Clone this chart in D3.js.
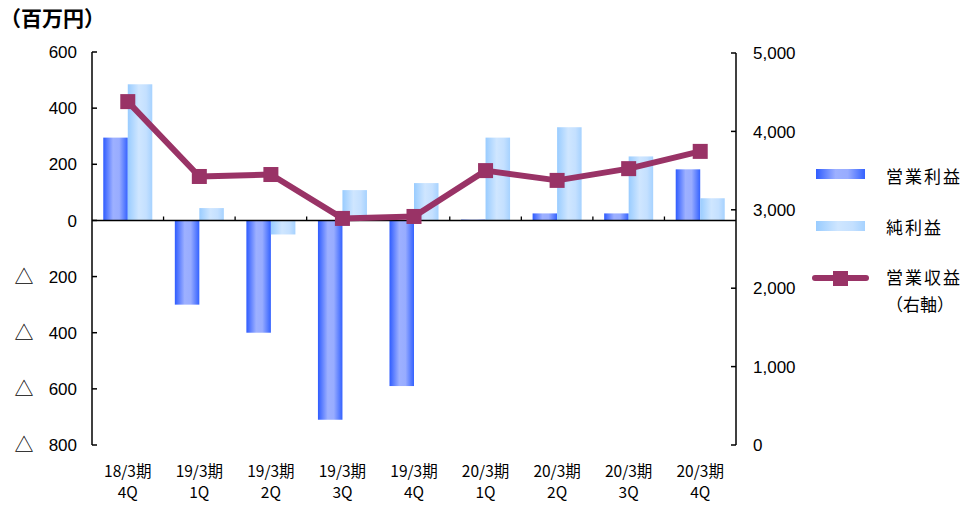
<!DOCTYPE html>
<html><head><meta charset="utf-8">
<script src="https://cdn.jsdelivr.net/npm/d3@7"></script>
<style>
html,body{margin:0;padding:0;background:#fff;}
svg{display:block;}
</style></head>
<body><svg id="c" width="962" height="506"></svg>
<script>
const categories = ["18/3期|4Q","19/3期|1Q","19/3期|2Q","19/3期|3Q","19/3期|4Q","20/3期|1Q","20/3期|2Q","20/3期|3Q","20/3期|4Q"];
const operatingProfit = [295, -300, -400, -710, -590, 3, 25, 25, 182];
const netProfit = [485, 44, -50, 108, 133, 295, 332, 228, 79];
const operatingRevenue = [4380, 3425, 3450, 2890, 2915, 3500, 3375, 3525, 3745];
const leftTicks = [600, 400, 200, 0, -200, -400, -600, -800];
const rightTicks = [5000, 4000, 3000, 2000, 1000, 0];
const seriesNames = ["営業利益", "純利益", "営業収益", "（右軸）"];

const svg = d3.select("#c");
const NUM = "'Liberation Sans', Arial, sans-serif";
const JP = "'Noto Sans CJK JP', sans-serif";
const X0 = 92, X1 = 736, YT = 52, YB = 445;

const defs = svg.append("defs");
function grad(id, stops){
  const g = defs.append("linearGradient").attr("id", id).attr("x1","0%").attr("x2","100%").attr("y1","0%").attr("y2","0%");
  stops.forEach(s => g.append("stop").attr("offset", s[0]).attr("stop-color", s[1]));
}
grad("gDark", [["0%","#2f5cff"],["40%","#9db0ff"],["65%","#98acff"],["100%","#3462ff"]]);
grad("gLight", [["0%","#99ccff"],["45%","#cfe6ff"],["75%","#c4e0ff"],["100%","#a6d2ff"]]);

const x = d3.scaleBand().domain(categories).range([X0, X1]).paddingInner(0).paddingOuter(0);
const xi = d3.scaleBand().domain(["op","net"]).range([0, x.bandwidth()]).paddingInner(0).paddingOuter(0.46);
const yL = d3.scaleLinear().domain([-800, 600]).range([YB, YT]);
const yR = d3.scaleLinear().domain([0, 5000]).range([YB, 53]);

// bars
const g = svg.append("g");
categories.forEach((c, i) => {
  const vals = [["op", operatingProfit[i], "url(#gDark)"], ["net", netProfit[i], "url(#gLight)"]];
  vals.forEach(([k, v, f]) => {
    const y0 = yL(0), y1 = yL(v);
    g.append("rect")
      .attr("x", x(c) + xi(k)).attr("width", xi.bandwidth())
      .attr("y", Math.min(y0, y1)).attr("height", Math.max(Math.abs(y1 - y0), 0.8))
      .attr("fill", f);
  });
});

// x axis at zero
const zeroY = Math.round(yL(0)) + 0.5;
svg.append("line").attr("x1", X0).attr("x2", X1).attr("y1", zeroY).attr("y2", zeroY).attr("stroke", "#000").attr("stroke-width", 1.3);
categories.slice(1).forEach(c => {
  svg.append("line").attr("x1", x(c)).attr("x2", x(c)).attr("y1", zeroY).attr("y2", zeroY - 4).attr("stroke", "#000").attr("stroke-width", 1.3);
});

// left axis
const la = svg.append("g");
la.append("line").attr("x1", X0).attr("x2", X0).attr("y1", yL(600)).attr("y2", yL(-800)).attr("stroke", "#000").attr("stroke-width", 1.5);
leftTicks.forEach(t => {
  la.append("line").attr("x1", X0).attr("x2", X0 + 5).attr("y1", yL(t)).attr("y2", yL(t)).attr("stroke", "#000").attr("stroke-width", 1.5);
  la.append("text").attr("x", 77).attr("y", yL(t)).attr("dy", "0.36em").attr("text-anchor", "end")
    .attr("font-family", NUM).attr("font-size", 17).attr("fill", "#000")
    .text(String(Math.abs(t)));
  if (t < 0) {
    la.append("text").attr("x", 24).attr("y", yL(t)).attr("dy", "0.38em").attr("text-anchor", "middle")
      .attr("font-family", JP).attr("font-size", 19).attr("fill", "#000").text("△");
  }
});

// right axis
const ra = svg.append("g");
ra.append("line").attr("x1", X1).attr("x2", X1).attr("y1", yR(5000)).attr("y2", yR(0)).attr("stroke", "#000").attr("stroke-width", 1.5);
rightTicks.forEach(t => {
  ra.append("line").attr("x1", X1 - 5).attr("x2", X1).attr("y1", yR(t)).attr("y2", yR(t)).attr("stroke", "#000").attr("stroke-width", 1.5);
  ra.append("text").attr("x", 753).attr("y", yR(t)).attr("dy", "0.36em").attr("text-anchor", "start")
    .attr("font-family", NUM).attr("font-size", 17).attr("fill", "#000")
    .text(d3.format(",")(t));
});

// line series
const LC = "#993366";
const line = d3.line().x((d, i) => x(categories[i]) + x.bandwidth() / 2).y(d => yR(d));
svg.append("path").attr("d", line(operatingRevenue)).attr("fill", "none").attr("stroke", LC).attr("stroke-width", 6).attr("stroke-linejoin", "round");
operatingRevenue.forEach((v, i) => {
  const cx = x(categories[i]) + x.bandwidth() / 2;
  svg.append("rect").attr("x", cx - 7.5).attr("y", yR(v) - 7.5).attr("width", 15).attr("height", 15).attr("fill", LC);
});

// category labels
categories.forEach(c => {
  const [a, b] = c.split("|");
  const cx = x(c) + x.bandwidth() / 2;
  svg.append("text").attr("x", cx).attr("y", 477).attr("text-anchor", "middle")
    .attr("font-family", JP).attr("font-size", 15.5).attr("fill", "#000").text(a);
  svg.append("text").attr("x", cx).attr("y", 498).attr("text-anchor", "middle")
    .attr("font-family", JP).attr("font-size", 15.5).attr("fill", "#000").text(b);
});

// title
svg.append("text").attr("x", 0).attr("y", 26).attr("font-family", JP).attr("font-weight", "bold")
  .attr("font-size", 21).attr("fill", "#000").text("（百万円）");

// legend
const lg = svg.append("g");
lg.append("rect").attr("x", 816).attr("y", 169).attr("width", 49).attr("height", 10).attr("fill", "url(#gDark)");
lg.append("rect").attr("x", 816).attr("y", 221).attr("width", 49).attr("height", 10).attr("fill", "url(#gLight)");
lg.append("line").attr("x1", 815).attr("x2", 866).attr("y1", 278).attr("y2", 278).attr("stroke", LC).attr("stroke-width", 6).attr("stroke-linecap", "round");
lg.append("rect").attr("x", 833).attr("y", 271).attr("width", 15).attr("height", 15).attr("fill", LC);
const ly = [183, 234, 284, 311];
seriesNames.forEach((n, i) => {
  lg.append("text").attr("x", 886).attr("y", ly[i]).attr("font-family", JP).attr("font-size", 17)
    .attr("letter-spacing", i === 3 ? 0 : 2).attr("fill", "#000").text(n);
});
</script></body></html>
